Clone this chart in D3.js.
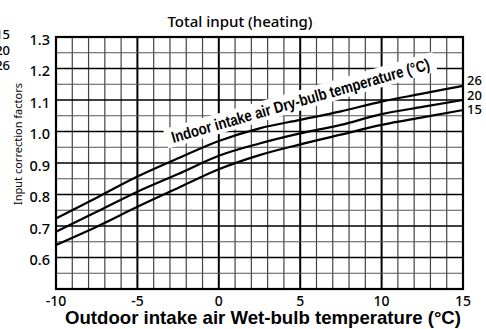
<!DOCTYPE html>
<html>
<head>
<meta charset="utf-8">
<script src="https://cdn.jsdelivr.net/npm/d3@7"></script>
<style>
  html, body { margin: 0; padding: 0; background: #fff; }
  svg { display: block; }
</style>
</head>
<body>
<svg id="chart" width="486" height="329"></svg>
<script>
// Outdoor wet-bulb temperature (°C) sample points
const wetBulb = [-10, -7.5, -5, -2.5, 0, 2.5, 5, 7.5, 10, 12.5, 15];
// Input correction factor per indoor dry-bulb temperature
const dry26 = [0.724, 0.790, 0.857, 0.915, 0.970, 1.010, 1.037, 1.064, 1.095, 1.120, 1.145];
const dry20 = [0.682, 0.745, 0.809, 0.865, 0.923, 0.962, 0.994, 1.021, 1.055, 1.078, 1.100];
const dry15 = [0.640, 0.698, 0.761, 0.821, 0.880, 0.925, 0.959, 0.990, 1.021, 1.045, 1.068];
const seriesNames = ["26", "20", "15"];
const legendNames = ["15", "20", "26"];
const xTicks = [-10, -5, 0, 5, 10, 15];
const yTicks = [0.6, 0.7, 0.8, 0.9, 1.0, 1.1, 1.2, 1.3];

const svg = d3.select("#chart");
const L = 56, R = 463, T = 37, B = 289;
const x = d3.scaleLinear().domain([-10, 15]).range([L, R]);
const y = d3.scaleLinear().domain([0.5, 1.3]).range([B, T]);

const font = "'Noto Sans', 'Open Sans', sans-serif";
const boldFont = "'Liberation Sans', Arial, sans-serif";

// grid: minor every 1 °C / 0.05, major every 5 °C / 0.1
const grid = svg.append("g");
d3.range(-9, 15).forEach(v => {
  const major = v % 5 === 0;
  grid.append("line")
    .attr("x1", x(v)).attr("x2", x(v)).attr("y1", T).attr("y2", B)
    .attr("stroke", major ? "#000" : "#444")
    .attr("stroke-width", major ? 2 : 1.2);
});
d3.range(11, 26).map(i => i * 0.05).forEach(v => {
  const major = Math.round(v * 100) % 10 === 0;
  grid.append("line")
    .attr("x1", L).attr("x2", R).attr("y1", y(v)).attr("y2", y(v))
    .attr("stroke", major ? "#000" : "#555")
    .attr("stroke-width", major ? 1.5 : 1.2);
});

// frame
svg.append("rect")
  .attr("x", L).attr("y", T).attr("width", R - L).attr("height", B - T)
  .attr("fill", "none").attr("stroke", "#000").attr("stroke-width", 2.2);

// tilted series caption with white backing
const capX = 302, capY = 106, capAngle = -16;
const cap = svg.append("g").attr("transform", `translate(${capX},${capY}) rotate(${capAngle})`);
cap.append("rect")
  .attr("x", -140).attr("y", -16).attr("width", 280).attr("height", 20)
  .attr("fill", "#fff");
cap.append("text")
  .attr("text-anchor", "middle")
  .attr("font-family", boldFont)
  .attr("font-weight", "bold")
  .attr("font-size", 16)
  .attr("textLength", 268)
  .attr("lengthAdjust", "spacingAndGlyphs")
  .text("Indoor intake air Dry-bulb temperature (°C)");

// curves
const line = d3.line()
  .x((d, i) => x(wetBulb[i]))
  .y(d => y(d))
  .curve(d3.curveMonotoneX);
[dry26, dry20, dry15].forEach(s => {
  svg.append("path").attr("d", line(s))
    .attr("fill", "none").attr("stroke", "#000").attr("stroke-width", 2.2);
});

// series labels at right end
seriesNames.forEach((t, i) => {
  svg.append("text")
    .attr("x", R + 4).attr("y", [85, 99.5, 114][i])
    .attr("font-family", font).attr("font-size", 13).attr("font-weight", 500)
    .text(t);
});
// series labels at left edge
legendNames.forEach((t, i) => {
  svg.append("text")
    .attr("x", 10).attr("y", 39 + i * 15.5)
    .attr("text-anchor", "end")
    .attr("font-family", font).attr("font-size", 13).attr("font-weight", 500)
    .text(t);
});

// tick labels
svg.append("g").selectAll("text").data(yTicks).join("text")
  .attr("x", 50).attr("y", d => y(d) + 7.5)
  .attr("text-anchor", "end")
  .attr("font-family", font).attr("font-size", 14.5).attr("font-weight", 500)
  .text(d => d.toFixed(1));

svg.append("g").selectAll("text").data(xTicks).join("text")
  .attr("x", d => x(d)).attr("y", 306)
  .attr("text-anchor", "middle")
  .attr("font-family", font).attr("font-size", 14).attr("font-weight", 500)
  .text(d => d);

// titles
svg.append("text")
  .attr("x", 240).attr("y", 27)
  .attr("text-anchor", "middle")
  .attr("font-family", font).attr("font-size", 15).attr("font-weight", 500)
  .text("Total input (heating)");

svg.append("text")
  .attr("x", 263).attr("y", 324)
  .attr("text-anchor", "middle")
  .attr("font-family", boldFont)
  .attr("font-weight", "bold").attr("font-size", 19)
  .attr("textLength", 396).attr("lengthAdjust", "spacingAndGlyphs")
  .text("Outdoor intake air Wet-bulb temperature (°C)");

svg.append("text")
  .attr("transform", "translate(22,144) rotate(-90)")
  .attr("text-anchor", "middle")
  .attr("font-family", font).attr("font-size", 11)
  .text("Input correction factors");
</script>
</body>
</html>
